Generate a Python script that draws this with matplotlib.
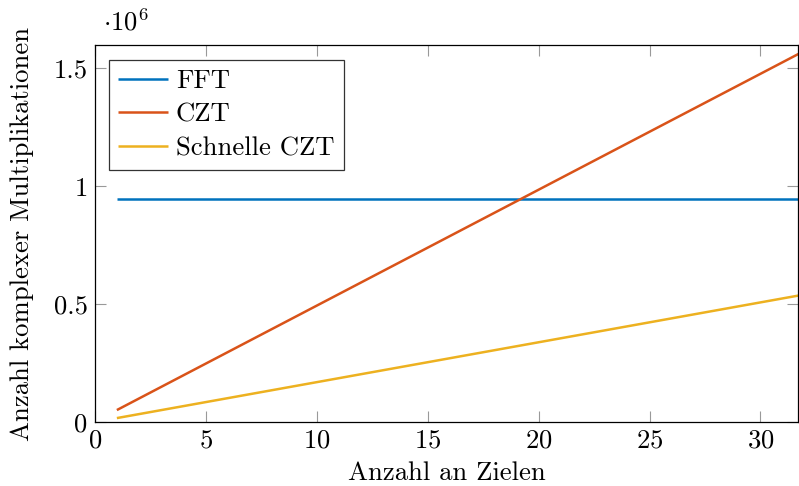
import matplotlib
matplotlib.use("Agg")
import matplotlib.pyplot as plt
from matplotlib.ticker import FuncFormatter

plt.rcParams["font.family"] = ["cmr10", "DejaVu Serif"]
plt.rcParams["mathtext.fontset"] = "cm"
plt.rcParams["axes.formatter.use_mathtext"] = True

# Number of targets (line end points)
targets = [1, 32]
# Complex multiplications per method
fft_mults = [0.948e6, 0.948e6]
czt_mults = [0.052e6, 1.575e6]
fast_czt_mults = [0.018e6, 0.542e6]

labels = ["FFT", "CZT", "Schnelle CZT"]
colors = ["#0072BD", "#D95319", "#EDB120"]

FS = 19.2

fig = plt.figure(figsize=(7.99, 4.86), dpi=100)
ax = fig.add_axes([0.1185, 0.131, 0.8805, 0.777])

for y, lab, col in zip([fft_mults, czt_mults, fast_czt_mults], labels, colors):
    ax.plot(targets, y, color=col, lw=1.8, label=lab, solid_capstyle="butt")

ax.set_xlim(0, 31.7)
ax.set_ylim(0, 1.6e6)
ax.set_xticks([0, 5, 10, 15, 20, 25, 30])
ax.set_yticks([0, 0.5e6, 1.0e6, 1.5e6])
ax.yaxis.set_major_formatter(FuncFormatter(lambda v, p: f"{v/1e6:g}"))

ax.tick_params(direction="in", length=8, width=0.8, color="#999999",
               top=True, right=True, labelsize=FS, pad=5)
for s in ax.spines.values():
    s.set_linewidth(0.9)
    s.set_color("black")

ax.set_xlabel("Anzahl an Zielen", fontsize=FS, labelpad=6)
ax.set_ylabel("Anzahl komplexer Multiplikationen", fontsize=FS, labelpad=14)
ax.text(0.012, 1.025, r"$\cdot 10^{6}$", transform=ax.transAxes, fontsize=FS,
        ha="left", va="bottom")

leg = ax.legend(loc="upper left", bbox_to_anchor=(0.0205, 0.96), fontsize=FS,
                frameon=True, fancybox=False, edgecolor="#333333", framealpha=1,
                handlelength=1.85, handletextpad=0.3, borderpad=0.35,
                labelspacing=0.38, borderaxespad=0)
leg.get_frame().set_linewidth(0.9)

fig.savefig("out.png", dpi=100)
